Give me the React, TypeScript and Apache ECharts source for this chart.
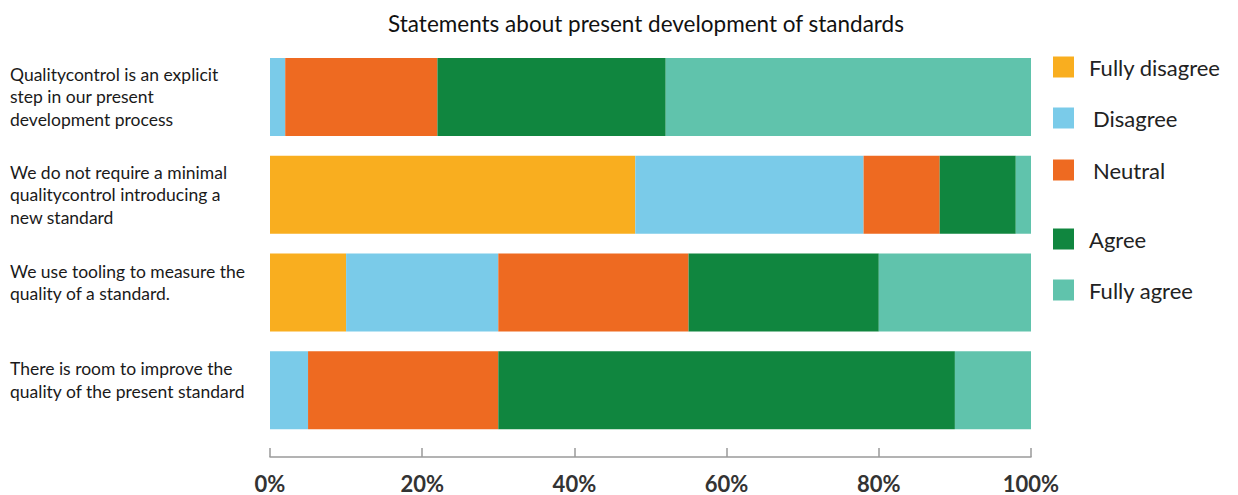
import React, { useEffect, useRef } from "react";
import * as echarts from "echarts";

const categories = [
  "Qualitycontrol is an explicit\nstep in our present\ndevelopment process",
  "We do not require a minimal\nqualitycontrol introducing a\nnew standard",
  "We use tooling to measure the\nquality of a standard.",
  "There is room to improve the\nquality of the present standard",
];
const seriesNames = ["Fully disagree", "Disagree", "Neutral", "Agree", "Fully agree"];
const fullyDisagree = [0, 48, 10, 0];
const disagree = [2, 30, 20, 5];
const neutral = [20, 10, 25, 25];
const agree = [30, 10, 25, 60];
const fullyAgree = [48, 2, 20, 10];
const xTicks = [0, 20, 40, 60, 80, 100];

const colors = ["#F9AE1F", "#7ACBE9", "#EE6A21", "#10863F", "#60C3AC"];
const legendTops = [56, 107, 159, 228, 279];
const legendTextPad = [10, 14, 14, 10, 10];
const liftLabel = [false, false, true, true];

export default function App() {
  const ref = useRef<HTMLDivElement>(null);
  useEffect(() => {
    document.body.style.margin = "0";
    if (!ref.current) return;
    const chart = echarts.init(ref.current, null, { renderer: "svg" });
    const values = [fullyDisagree, disagree, neutral, agree, fullyAgree];
    const base = { fontFamily: "Lato", fontSize: 17.5, lineHeight: 22.5, color: "#1a1a1a", align: "left" };
    chart.setOption({
      animation: false,
      title: {
        text: "Statements about present development of standards",
        left: 641,
        textAlign: "center",
        top: 7,
        textStyle: { fontFamily: "Lato", fontSize: 22.5, fontWeight: "normal", color: "#111" },
      },
      legend: seriesNames.map((n, i) => ({
        data: [n],
        left: 1053,
        top: legendTops[i],
        padding: 0,
        icon: "rect",
        itemWidth: 21,
        itemHeight: 21,
        itemGap: 0,
        textStyle: { fontFamily: "Lato", fontSize: 22, color: "#222", padding: [0, 0, 0, legendTextPad[i]] },
      })),
      grid: { left: 270, right: 207, top: 48, bottom: 56, containLabel: false, outerBoundsMode: "none" },
      xAxis: {
        type: "value",
        min: 0,
        max: 100,
        interval: 20,
        offset: 18,
        axisLine: { show: true, lineStyle: { color: "#9a9a9a", width: 1.5 } },
        axisTick: { show: true, inside: true, length: 9, lineStyle: { color: "#9a9a9a", width: 1.5 } },
        splitLine: { show: false },
        axisLabel: {
          margin: 15,
          formatter: (v: number) => (xTicks.includes(v) ? v + "%" : ""),
          fontFamily: "Lato",
          fontSize: 22,
          fontWeight: "bold",
          color: "#333",
        },
      },
      yAxis: {
        type: "category",
        data: categories,
        inverse: true,
        axisLine: { show: false },
        axisTick: { show: false },
        axisLabel: {
          ...base,
          margin: 260,
          formatter: (value: string, index: number) => {
            const body = value
              .split("\n")
              .map((l) => `{t|${l}}`)
              .join("\n");
            return liftLabel[index] ? body + "\n{g| }" : body;
          },
          rich: {
            t: { ...base },
            g: { fontSize: 1, lineHeight: 20 },
          },
        },
      },
      series: seriesNames.map((n, i) => ({
        name: n,
        type: "bar",
        stack: "total",
        barWidth: 78,
        itemStyle: { color: colors[i] },
        data: values[i],
      })),
    });
    return () => chart.dispose();
  }, []);
  return <div ref={ref} style={{ width: 1238, height: 495 }} />;
}
